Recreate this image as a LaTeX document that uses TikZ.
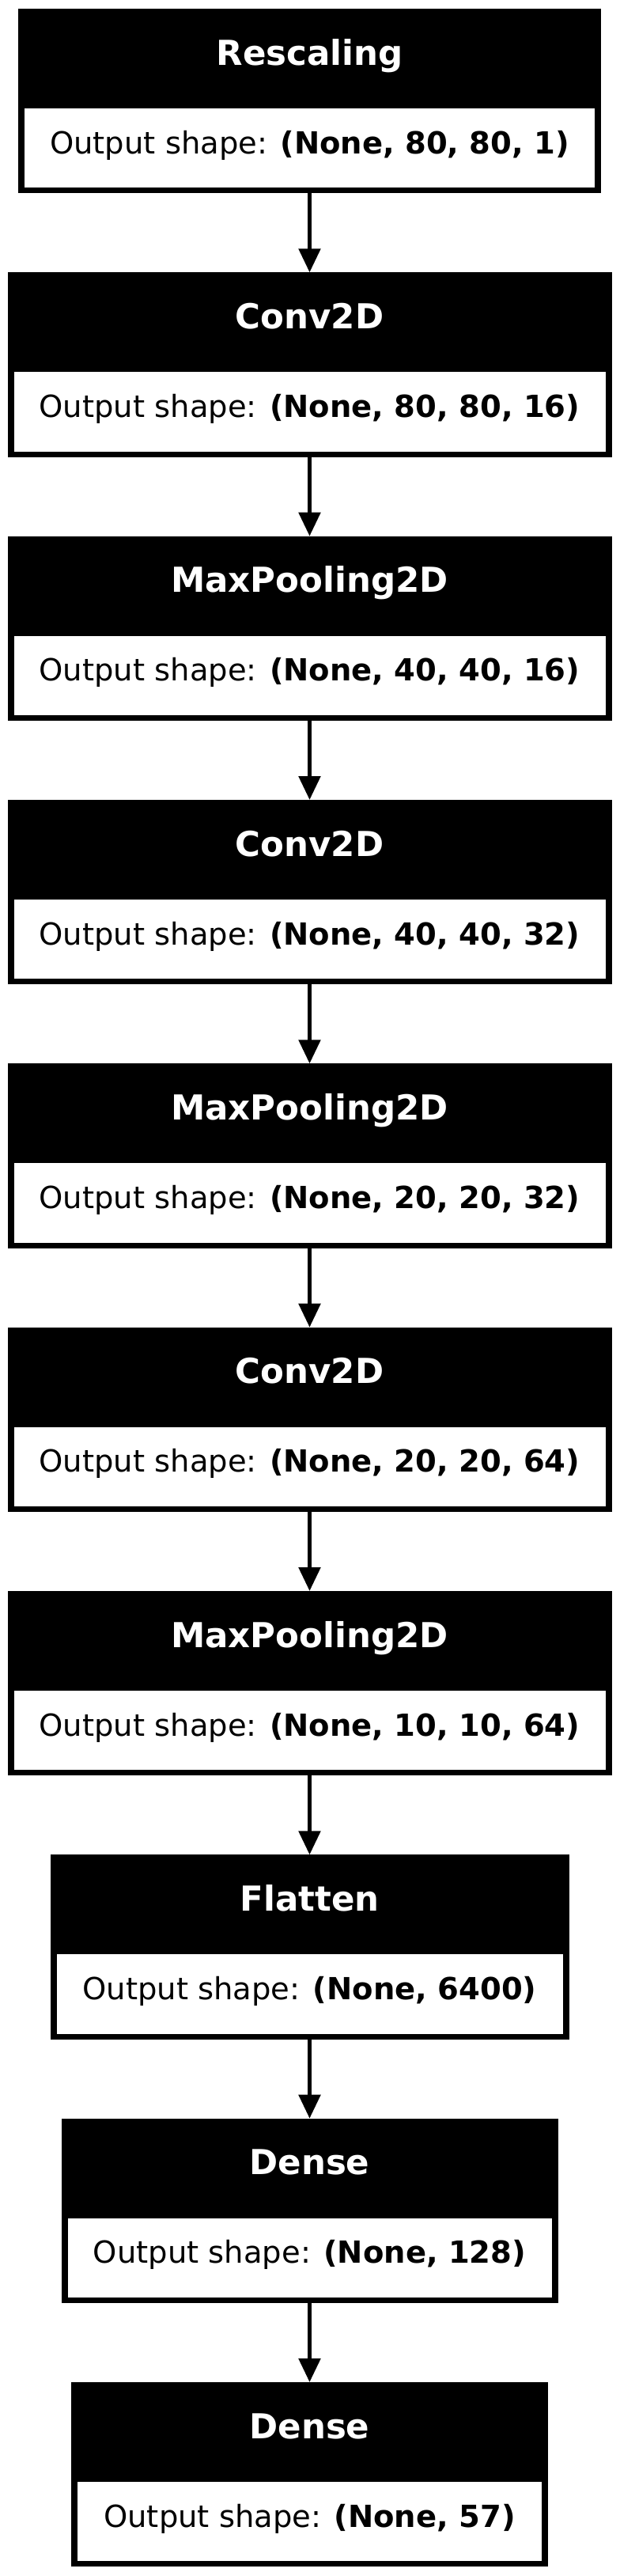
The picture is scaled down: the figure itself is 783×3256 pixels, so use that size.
\documentclass[tikz,border=0pt]{standalone}
\usepackage{fontspec}
\setmainfont{DejaVu Sans}
\usetikzlibrary{arrows.meta,calc}
\tikzset{
  outerbox/.style={fill=black, draw=none, inner sep=0pt, outer sep=0pt, rectangle, anchor=north, minimum height=116.65pt},
  innerbox/.style={fill=white, draw=none},
  titletext/.style={text=white, font=\fontsize{21.75pt}{26pt}\selectfont\bfseries, anchor=base, inner sep=0pt},
  bodytext/.style={text=black, font=\fontsize{19.25pt}{23pt}\selectfont, anchor=base, inner sep=0pt},
  conn/.style={draw=black, line width=2.65pt, -{Triangle[length=15pt,width=13.5pt]}}
}
\newcommand\layerbox[5]{%
  \node[outerbox, minimum width=#3pt] (#1) at (391.5,#2) {};
  \fill[innerbox] ($(#1.north west)+(8,126)$) rectangle ($(#1.south east)+(-8,-7)$);
  \node[titletext] (#1t) at ($(#1.north)+(0,71)$) {#4};
  \node[bodytext] (#1s) at ($(#1.north)+(0,183)$) {Output shape: \textbf{#5}};
}
\begin{document}
\begin{tikzpicture}[x=0.5pt,y=-0.5pt]
\useasboundingbox[fill=white] (0,0) rectangle (783,3256);
\layerbox{b1}{11}{368.2}{Rescaling}{(None, 80, 80, 1)}
\layerbox{b2}{344.33}{382}{Conv2D}{(None, 80, 80, 16)}
\layerbox{b3}{677.67}{382}{MaxPooling2D}{(None, 40, 40, 16)}
\layerbox{b4}{1011}{382}{Conv2D}{(None, 40, 40, 32)}
\layerbox{b5}{1344.33}{382}{MaxPooling2D}{(None, 20, 20, 32)}
\layerbox{b6}{1677.67}{382}{Conv2D}{(None, 20, 20, 64)}
\layerbox{b7}{2011}{382}{MaxPooling2D}{(None, 10, 10, 64)}
\layerbox{b8}{2344.33}{328}{Flatten}{(None, 6400)}
\layerbox{b9}{2677.67}{314}{Dense}{(None, 128)}
\layerbox{b10}{3011}{301.4}{Dense}{(None, 57)}
\draw[conn] (b1.south) -- (b2.north);
\draw[conn] (b2.south) -- (b3.north);
\draw[conn] (b3.south) -- (b4.north);
\draw[conn] (b4.south) -- (b5.north);
\draw[conn] (b5.south) -- (b6.north);
\draw[conn] (b6.south) -- (b7.north);
\draw[conn] (b7.south) -- (b8.north);
\draw[conn] (b8.south) -- (b9.north);
\draw[conn] (b9.south) -- (b10.north);
\end{tikzpicture}
\end{document}
